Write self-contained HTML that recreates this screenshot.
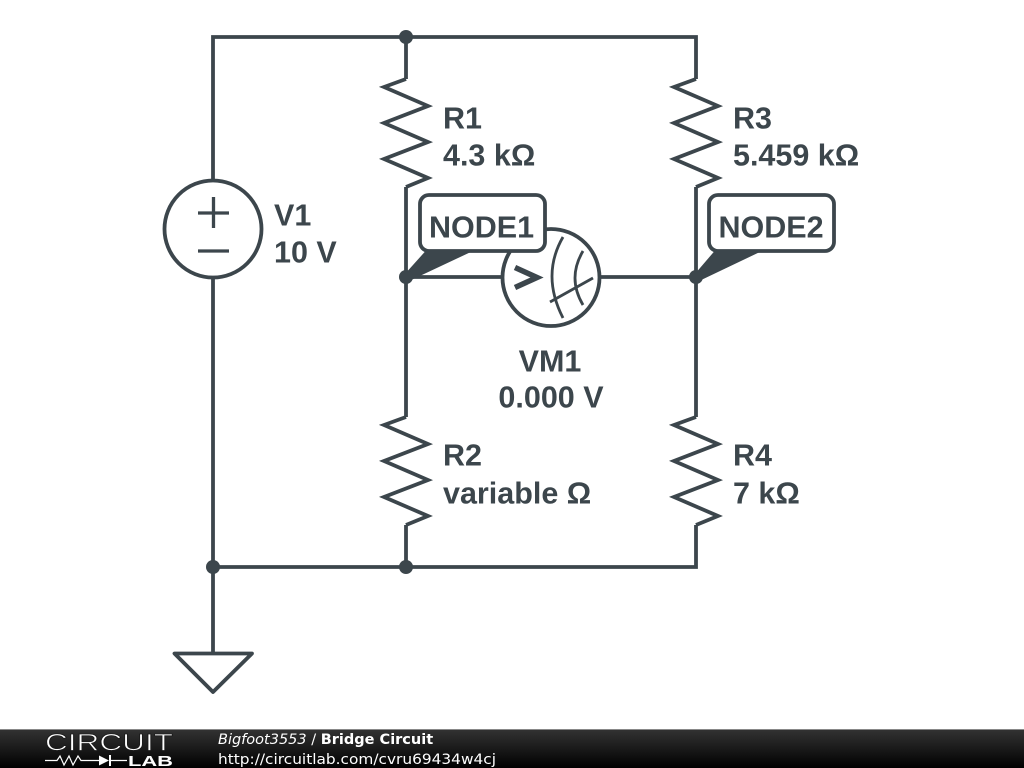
<!DOCTYPE html>
<html>
<head>
<meta charset="utf-8">
<title>Bridge Circuit</title>
<style>
html,body{margin:0;padding:0;background:#fff;width:1024px;height:768px;overflow:hidden}
svg{display:block}
.l{font-family:"Liberation Sans",sans-serif;font-weight:bold;font-size:30.500px;fill:#3c464c}
.f{font-family:"DejaVu Sans",sans-serif;font-size:14.500px;fill:#fff}
</style>
</head>
<body>
<svg width="1024" height="768" viewBox="0 0 1024 768" xmlns="http://www.w3.org/2000/svg">
<defs>
<linearGradient id="bar" x1="0" y1="0" x2="0" y2="1">
<stop offset="0" stop-color="#333"/>
<stop offset="0.5" stop-color="#1a1a1a"/>
<stop offset="1" stop-color="#000"/>
</linearGradient>
</defs>
<rect width="1024" height="768" fill="#fff"/>
<g fill="none" stroke="#3c464c" stroke-width="3.800" stroke-linejoin="miter">
<!-- wires -->
<path d="M213 180V37H696V79"/>
<path d="M213 278V653"/>
<path d="M213 567H696V525"/>
<path d="M406 37V79"/>
<path d="M406 187V417"/>
<path d="M406 525V567"/>
<path d="M696 187V417"/>
<path d="M406 277H502"/>
<path d="M600 277H696"/>
<!-- resistors -->
<path d="M406 79L384 87L428 106L384 123L428 142L384 159L428 178L406 187"/>
<path d="M696 79L674 87L718 106L674 123L718 142L674 159L718 178L696 187"/>
<path d="M406 417L384 425L428 444L384 461L428 480L384 497L428 516L406 525"/>
<path d="M696 417L674 425L718 444L674 461L718 480L674 497L718 516L696 525"/>
<!-- V1 -->
<circle cx="213" cy="229" r="48.500" fill="#fff"/>
<path d="M198 213H229M213.500 197V228M198 251H229" stroke-width="3.300"/>
<!-- ground -->
<path d="M174.500 653.500H252L213 692Z" stroke-linejoin="round"/>
<!-- VM1 -->
<circle cx="551" cy="277.500" r="48.500" fill="#fff"/>
<path d="M515 267.500L537 277.500L515 287.500" stroke-width="5.500"/>
<path d="M563 237Q541 275 563 318" stroke-width="2.800"/>
<path d="M583 251Q567 278 583 305" stroke-width="2.800"/>
<path d="M550 302L593 278" stroke-width="2.800"/>
</g>
<g fill="#fff" stroke="#3c464c" stroke-width="3.800">
<rect x="420" y="195" width="125" height="56" rx="9"/>
<rect x="709" y="195" width="125" height="56" rx="9"/>
</g>
<!-- callouts and junctions -->
<g fill="#3c464c">
<path d="M404 275L426 250.500H474L407 282Z"/>
<path d="M694 275L715 250.500H763L697 282Z"/>
<circle cx="406" cy="37" r="7"/>
<circle cx="406" cy="277" r="7"/>
<circle cx="696" cy="277" r="7"/>
<circle cx="213" cy="567" r="7"/>
<circle cx="406" cy="567" r="7"/>
</g>
<!-- labels -->
<text class="l" x="481.500" y="237.500" text-anchor="middle">NODE1</text>
<text class="l" x="771" y="237.500" text-anchor="middle">NODE2</text>
<text class="l" x="443" y="128.500">R1</text>
<text class="l" x="443" y="165.500">4.3 kΩ</text>
<text class="l" x="733" y="128.500">R3</text>
<text class="l" x="733" y="165.500">5.459 kΩ</text>
<text class="l" x="274" y="225.500">V1</text>
<text class="l" x="274" y="262.500">10 V</text>
<text class="l" x="550" y="371.500" text-anchor="middle">VM1</text>
<text class="l" x="551" y="407.500" text-anchor="middle">0.000 V</text>
<text class="l" x="443" y="465.500">R2</text>
<text class="l" x="443" y="503.500">variable Ω</text>
<text class="l" x="733" y="465.500">R4</text>
<text class="l" x="733" y="503.500">7 kΩ</text>
<!-- footer -->
<rect x="0" y="729" width="1024" height="39" fill="url(#bar)"/>
<rect x="0" y="729" width="1024" height="1" fill="#888"/>
<text x="45" y="750.500" font-family="Liberation Sans, sans-serif" font-size="24.500" textLength="128" lengthAdjust="spacingAndGlyphs" fill="#fff" stroke="#1c1c1c" stroke-width="0.800">CIRCUIT</text>
<path d="M45 760.500H57L60 756L64 765L69 756L73 765L78 756L81 760.500H99M110 760.500H127" fill="none" stroke="#fff" stroke-width="1.200"/>
<path d="M99 755.500L109 760.500L99 765.500Z" fill="#fff"/>
<rect x="109" y="755" width="2" height="11" fill="#fff"/>
<text x="128" y="766" font-family="Liberation Sans, sans-serif" font-weight="bold" font-size="15" textLength="45" lengthAdjust="spacingAndGlyphs" fill="#fff">LAB</text>
<text class="f" x="218" y="744"><tspan font-style="italic">Bigfoot3553</tspan> / <tspan font-weight="bold">Bridge Circuit</tspan></text>
<text class="f" x="218" y="764" textLength="278" lengthAdjust="spacingAndGlyphs">http://circuitlab.com/cvru69434w4cj</text>
</svg>
</body>
</html>
